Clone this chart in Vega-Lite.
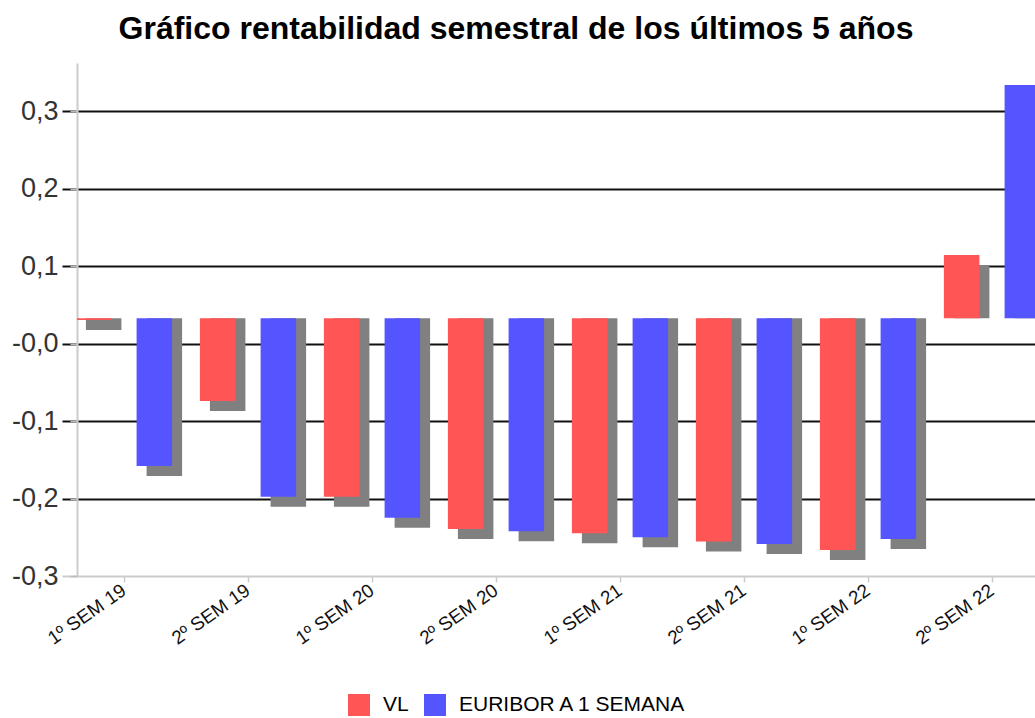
{
  "$schema": "https://vega.github.io/schema/vega-lite/v6.json",
  "autosize": "none",
  "width": 958,
  "height": 513,
  "padding": {"left": 77, "top": 63, "right": 0, "bottom": 142},
  "background": "white",
  "title": {
    "text": "Gráfico rentabilidad semestral de los últimos 5 años",
    "font": "Liberation Sans",
    "fontSize": 32,
    "fontWeight": "bold",
    "color": "#000000",
    "anchor": "middle",
    "dx": -40,
    "dy": 30,
    "baseline": "alphabetic",
    "offset": 22
  },
  "data": {
    "values": [
      {"periodo": "1º SEM 19", "serie": "VL", "valor": 0.0303},
      {"periodo": "1º SEM 19", "serie": "EURIBOR A 1 SEMANA", "valor": -0.158},
      {"periodo": "2º SEM 19", "serie": "VL", "valor": -0.0742},
      {"periodo": "2º SEM 19", "serie": "EURIBOR A 1 SEMANA", "valor": -0.1977},
      {"periodo": "1º SEM 20", "serie": "VL", "valor": -0.1977},
      {"periodo": "1º SEM 20", "serie": "EURIBOR A 1 SEMANA", "valor": -0.2248},
      {"periodo": "2º SEM 20", "serie": "VL", "valor": -0.2394},
      {"periodo": "2º SEM 20", "serie": "EURIBOR A 1 SEMANA", "valor": -0.2423},
      {"periodo": "1º SEM 21", "serie": "VL", "valor": -0.2449},
      {"periodo": "1º SEM 21", "serie": "EURIBOR A 1 SEMANA", "valor": -0.2501},
      {"periodo": "2º SEM 21", "serie": "VL", "valor": -0.2555},
      {"periodo": "2º SEM 21", "serie": "EURIBOR A 1 SEMANA", "valor": -0.2587},
      {"periodo": "1º SEM 22", "serie": "VL", "valor": -0.2665},
      {"periodo": "1º SEM 22", "serie": "EURIBOR A 1 SEMANA", "valor": -0.2523},
      {"periodo": "2º SEM 22", "serie": "VL", "valor": 0.1142},
      {"periodo": "2º SEM 22", "serie": "EURIBOR A 1 SEMANA", "valor": 0.3335}
    ]
  },
  "encoding": {
    "x": {
      "field": "periodo",
      "type": "nominal",
      "sort": null,
      "scale": {"range": [-15, 977], "paddingInner": 0, "paddingOuter": 0},
      "axis": {
        "title": null,
        "labelAngle": -35,
        "labelAlign": "right",
        "labelBaseline": "middle",
        "labelFont": "Liberation Sans",
        "labelFontSize": 19,
        "labelColor": "#111111",
        "labelPadding": 6,
        "domainColor": "#cccccc",
        "domainWidth": 2,
        "tickColor": "#cccccc",
        "tickWidth": 1.5,
        "tickSize": 6,
        "grid": false
      }
    },
    "y": {
      "field": "valor",
      "type": "quantitative",
      "scale": {"domain": [-0.3, 0.362], "nice": false, "zero": false},
      "axis": {
        "title": null,
        "values": [-0.3, -0.2, -0.1, 0, 0.1, 0.2, 0.3],
        "labelExpr": "datum.value == 0 ? '-0,0' : (datum.value < 0 ? '-' : '') + replace(format(abs(datum.value), '.1f'), '.', ',')",
        "labelFont": "Liberation Sans",
        "labelFontSize": 27,
        "labelColor": "#333333",
        "labelPadding": 12,
        "domainColor": "#cccccc",
        "domainWidth": 2,
        "tickColor": "#bbbbbb",
        "tickSize": 7,
        "tickWidth": 1.5,
        "grid": true,
        "gridColor": {"condition": {"test": "datum.value < -0.29", "value": "transparent"}, "value": "#111111"},
        "gridWidth": 2
      }
    },
    "y2": {"datum": 0.0325}
  },
  "layer": [
    {
      "mark": {"type": "bar", "color": "#808080", "yOffset": 10, "clip": true},
      "encoding": {
        "xOffset": {
          "field": "serie",
          "type": "nominal",
          "sort": ["VL", "EURIBOR A 1 SEMANA"],
          "scale": {"paddingInner": 0.415, "paddingOuter": 0.229, "align": 0.86}
        }
      }
    },
    {
      "mark": {"type": "bar", "clip": true},
      "encoding": {
        "xOffset": {
          "field": "serie",
          "type": "nominal",
          "sort": ["VL", "EURIBOR A 1 SEMANA"],
          "scale": {"paddingInner": 0.415, "paddingOuter": 0.229, "align": 0.5}
        },
        "color": {
          "field": "serie",
          "type": "nominal",
          "scale": {"domain": ["VL", "EURIBOR A 1 SEMANA"], "range": ["#FF5555", "#5555FF"]},
          "legend": {
            "title": null,
            "orient": "none",
            "direction": "horizontal",
            "legendX": 271,
            "legendY": 631,
            "padding": 0,
            "symbolType": "square",
            "symbolSize": 484,
            "symbolStrokeWidth": 0,
            "symbolOpacity": 1,
            "labelFont": "Liberation Sans",
            "labelFontSize": 21,
            "labelLimit": 0,
            "labelColor": "#000000",
            "labelOffset": 13,
            "columnPadding": 15
          }
        }
      }
    }
  ],
  "resolve": {"scale": {"xOffset": "independent"}},
  "config": {"view": {"stroke": null}}
}
